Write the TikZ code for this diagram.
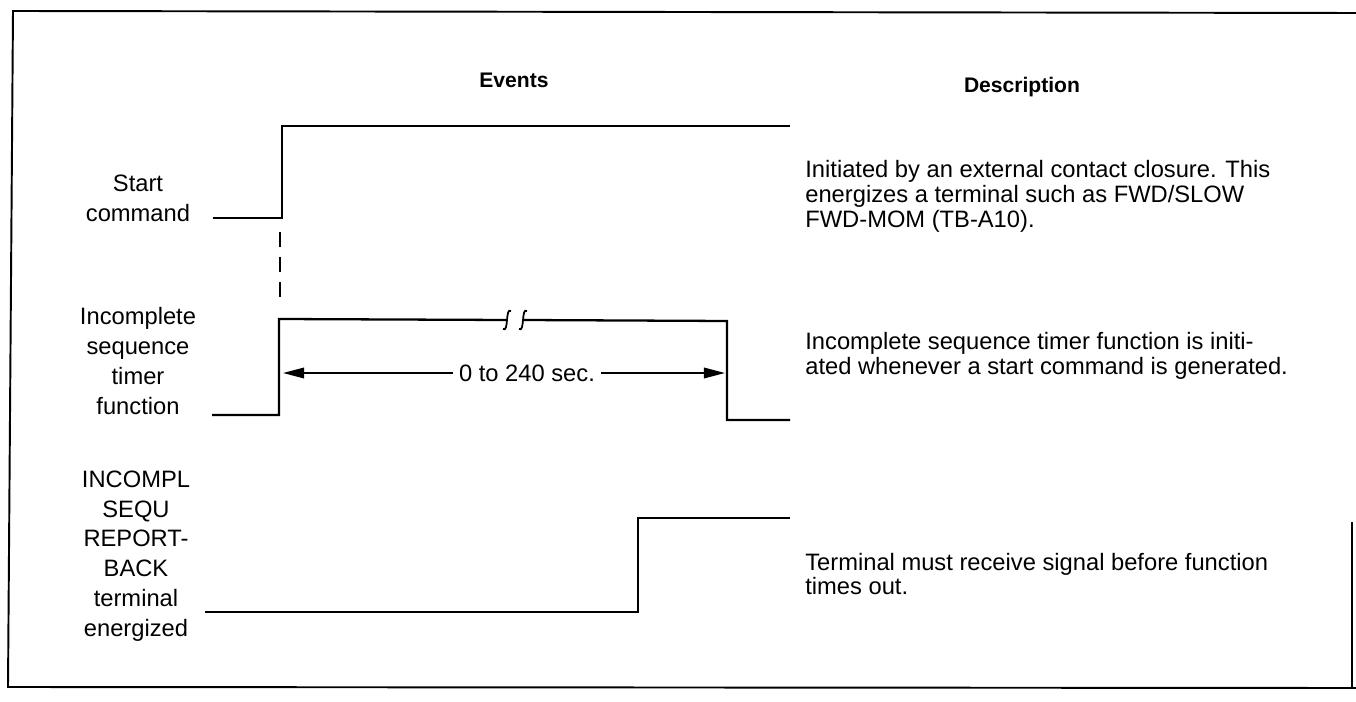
\documentclass[tikz,border=0pt]{standalone}
\usepackage{fontspec}
\setmainfont{Liberation Sans}
\usetikzlibrary{arrows.meta}

\begin{document}
\begin{tikzpicture}[
    x=0.02cm, y=-0.02cm,
    lbl/.style={align=center, font=\fontsize{13.5}{17}\selectfont},
    desc/.style={anchor=west, align=left, inner sep=0pt, font=\fontsize{13.5}{14.2}\selectfont},
    head/.style={font=\bfseries\fontsize{12}{14}\selectfont},
    sig/.style={line width=1.3pt, line join=miter},
    frame/.style={line width=1.1pt},
    brk/.style={line width=1pt},
    dim/.style={-{Triangle[length=12pt, width=6pt]}, line width=1pt}
]
\useasboundingbox (0,0) rectangle (1356,702);
\draw[frame] (1356,13) -- (13,11) -- (8,687) -- (1356,688);
\draw[frame] (1352,522) -- (1352,688);

\node[head] (events) at (514,80) {Events};
\node[head] (descr) at (1022,87) {Description};

\node[lbl] (start) at (138,198) {Start\\command};
\node[lbl] (timer) at (138,361) {Incomplete\\sequence\\timer\\function};
\node[lbl] (report) at (136,556) {INCOMPL\\SEQU\\REPORT-\\BACK\\terminal\\energized};

\node[desc] (d1) at (805,196) {Initiated by an external contact closure. This\\energizes a terminal such as FWD/SLOW\\FWD-MOM (TB-A10).};
\node[desc] (d2) at (805,356) {Incomplete sequence timer function is initi-\\ated whenever a start command is generated.};
\node[desc] (d3) at (805,574) {Terminal must receive signal before function\\times out.};

\coordinate (s0) at (213,218);
\coordinate (s1) at (282,218);
\coordinate (s2) at (282,126);
\coordinate (s3) at (790,126);
\draw[sig] (s0) -- (s1) -- (s2) -- (s3);

\coordinate (k0) at (280,232);
\coordinate (k1) at (280,300);
\draw[sig, dash pattern=on 8.5pt off 5.7pt] (k0) -- (k1);

\coordinate (t0) at (212,415);
\coordinate (t1) at (279,415);
\coordinate (t2) at (279,319);
\coordinate (b1) at (507,320);
\coordinate (b2) at (523,320);
\coordinate (t3) at (727,321);
\coordinate (t4) at (727,420);
\coordinate (t5) at (790,420);
\draw[sig] (t0) -- (t1) -- (t2) -- (b1);
\draw[sig] (b2) -- (t3) -- (t4) -- (t5);
\draw[brk, shift={(b1)}] (4,-9) .. controls (-2,-13) and (2,13) .. (-4,9);
\draw[brk, shift={(b2)}] (4,-9) .. controls (-2,-13) and (2,13) .. (-4,9);

\node[lbl] (dur) at (527,373) {0 to 240 sec.};
\coordinate (dl) at (283,373);
\coordinate (dr) at (725,373);
\draw[dim] (dur) -- (dl);
\draw[dim] (dur) -- (dr);

\coordinate (r0) at (205,612);
\coordinate (r1) at (638,612);
\coordinate (r2) at (638,518);
\coordinate (r3) at (790,518);
\draw[sig] (r0) -- (r1) -- (r2) -- (r3);
\end{tikzpicture}
\end{document}
